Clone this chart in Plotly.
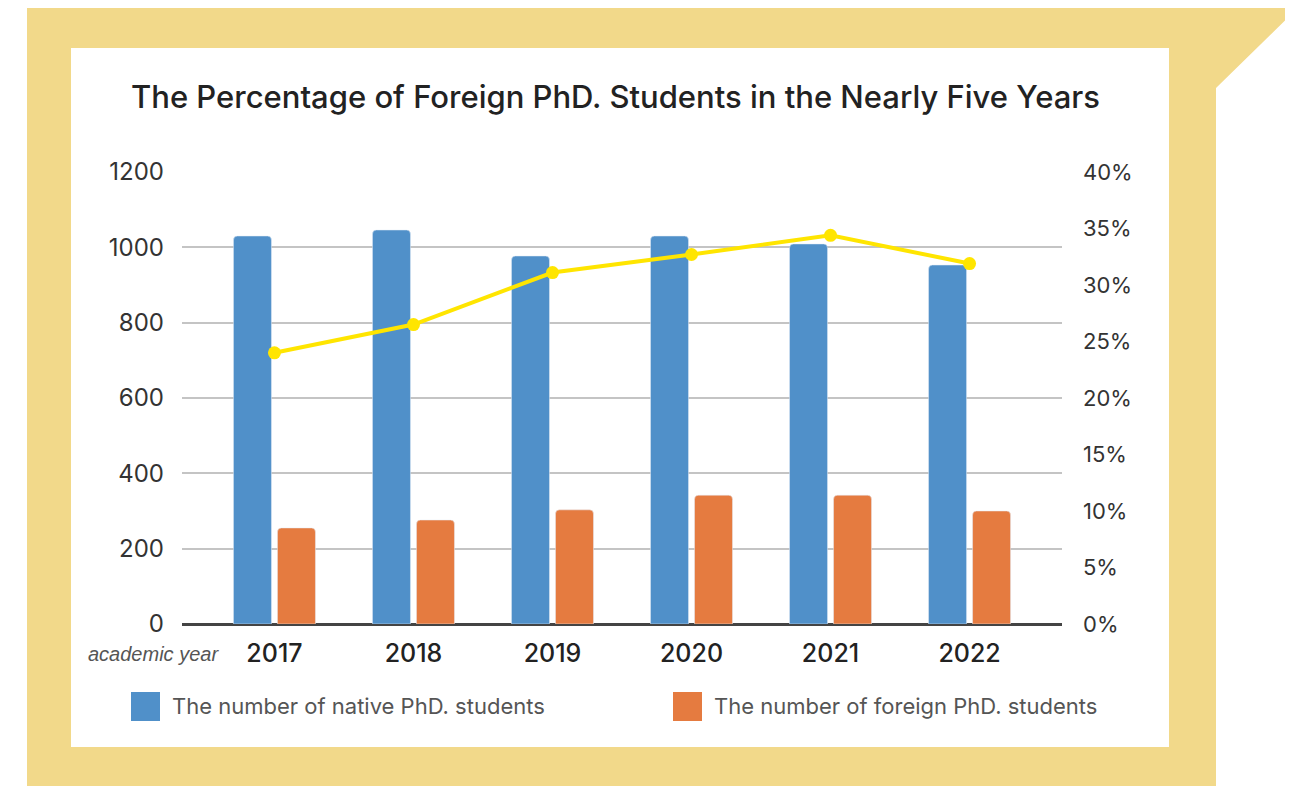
import plotly.graph_objects as go

W, H = 1293, 786
OX, OY = 8, 8  # page body offset
def px(x): return (x - OX) / W
def py(y): return 1 - (y - OY) / H

years = ["2017", "2018", "2019", "2020", "2021", "2022"]
native = [1030, 1046, 977, 1030, 1009, 953]
foreign = [255, 276, 303, 342, 342, 300]
pct = [0.240, 0.265, 0.311, 0.327, 0.344, 0.319]

blue = "#5090C9"
orange = "#E57B40"
yellow_line = "#FFE500"
frame = "#F2D98A"
FONT = "Inter"

fig = go.Figure()
fig.add_trace(go.Bar(x=years, y=native, name="The number of native PhD. students",
                     marker=dict(color=blue, cornerradius=4), showlegend=False))
fig.add_trace(go.Bar(x=years, y=foreign, name="The number of foreign PhD. students",
                     marker=dict(color=orange, cornerradius=4), showlegend=False))
fig.add_trace(go.Scatter(x=years, y=pct, yaxis="y2", mode="lines+markers",
                         line=dict(color=yellow_line, width=4),
                         marker=dict(color=yellow_line, size=13), showlegend=False))

shapes = []
path = "M {} {} L {} {} L {} {} L {} {} L {} {} L {} {} Z".format(
    px(27), py(6), px(1310), py(6), px(1310), py(-4), px(1216), py(88),
    px(1216), py(800), px(27), py(800))
shapes.append(dict(type="path", path=path, xref="paper", yref="paper",
                   fillcolor=frame, line=dict(width=0), layer="below"))
shapes.append(dict(type="rect", xref="paper", yref="paper", x0=px(71), x1=px(1169),
                   y0=py(747), y1=py(48), fillcolor="white", line=dict(width=0), layer="below"))
# legend squares
shapes.append(dict(type="rect", xref="paper", yref="paper", x0=px(131), x1=px(160),
                   y0=py(721), y1=py(692), fillcolor=blue, line=dict(width=0)))
shapes.append(dict(type="rect", xref="paper", yref="paper", x0=px(673), x1=px(702),
                   y0=py(721), y1=py(692), fillcolor=orange, line=dict(width=0)))

annotations = [
    dict(text="The Percentage of Foreign PhD. Students in the Nearly Five Years",
         xref="paper", yref="paper", x=px(615), y=py(97), showarrow=False,
         xanchor="center", yanchor="middle",
         font=dict(family=FONT, size=31, color="#222222", weight=500)),
    dict(text="<i>academic year</i>", xref="paper", yref="paper", x=px(221), y=py(654),
         showarrow=False, xanchor="right", yanchor="middle",
         font=dict(family="Liberation Sans", size=20, color="#555555")),
    dict(text="The number of native PhD. students", xref="paper", yref="paper",
         x=px(170), y=py(706), showarrow=False, xanchor="left", yanchor="middle",
         font=dict(family=FONT, size=22, color="#555555")),
    dict(text="The number of foreign PhD. students", xref="paper", yref="paper",
         x=px(712), y=py(706), showarrow=False, xanchor="left", yanchor="middle",
         font=dict(family=FONT, size=22, color="#555555")),
]

fig.update_layout(
    width=W, height=H, margin=dict(l=0, r=0, t=0, b=0, autoexpand=False),
    paper_bgcolor="white", plot_bgcolor="rgba(0,0,0,0)",
    barmode="group", bargap=0.367, bargroupgap=0.136,
    shapes=shapes, annotations=annotations,
    xaxis=dict(domain=[px(182), px(1062)], type="category", range=[-0.665, 5.665],
               showgrid=False, showline=False, ticks="", automargin=False,
               tickfont=dict(family=FONT, size=25, color="#222222", weight=500),
               ticklabelstandoff=12),
    yaxis=dict(domain=[py(624), py(172)], range=[0, 1200], dtick=200,
               showgrid=True, gridcolor="#C4C4C4", gridwidth=2, automargin=False,
               zeroline=True, zerolinecolor="#444444", zerolinewidth=3,
               ticks="", ticklabelstandoff=17,
               tickfont=dict(family=FONT, size=24, color="#333333")),
    yaxis2=dict(overlaying="y", side="right", range=[0, 0.4], dtick=0.05,
                tickformat=".0%", showgrid=False, zeroline=False, ticks="",
                ticklabelstandoff=20, automargin=False,
                tickfont=dict(family=FONT, size=22, color="#333333")),
)

fig.write_html("out.html")
